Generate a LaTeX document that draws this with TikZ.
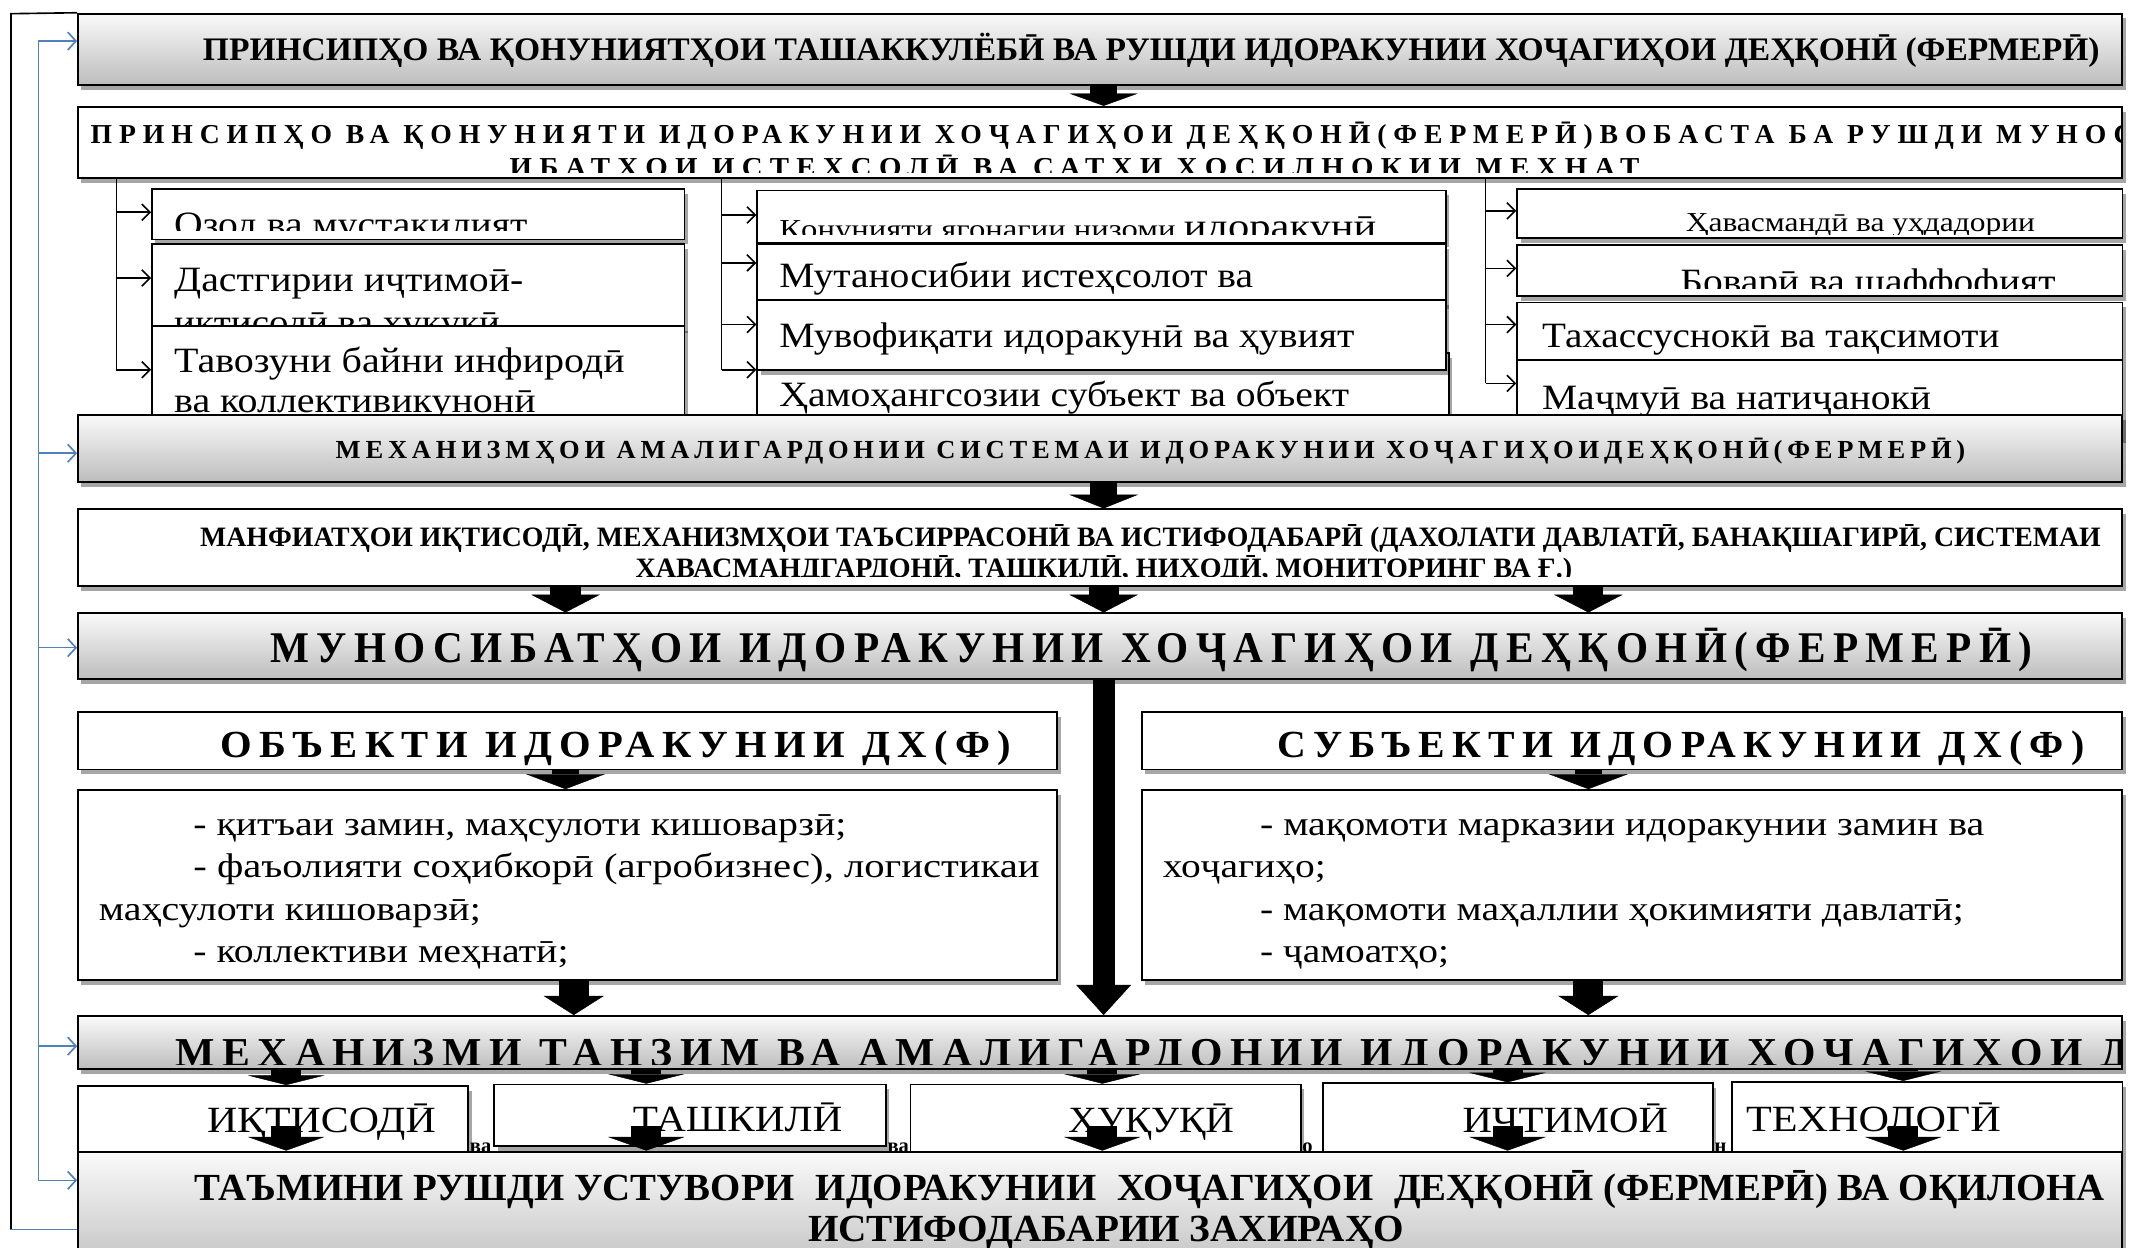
\documentclass[tikz,border=0pt]{standalone}
\usepackage{fontspec}
\setmainfont{Liberation Serif}
\usepackage{graphicx}
\usetikzlibrary{arrows.meta,fit,shadows,calc}
\newcommand{\fs}[1]{\fontsize{#1}{#1}\selectfont}
\newcommand{\fw}[2]{\resizebox{#1pt}{\height}{#2}}
\newcommand{\ls}[1]{\addfontfeature{LetterSpace=#1}}
\definecolor{frameblue}{HTML}{4F81BD}
\begin{document}
\begin{tikzpicture}[x=1pt,y=-1pt,
 shd/.style={drop shadow={shadow xshift=2.5pt,shadow yshift=-3.5pt,opacity=0.35,fill=black}},
 gbox/.style={draw=black,line width=1.4pt,top color=black!2,bottom color=black!26,inner sep=0pt,shd},
 wbox/.style={draw=black,line width=1.4pt,fill=white,inner sep=0pt,shd},
 sbox/.style={draw=black,line width=1.2pt,fill=white,inner sep=0pt,shd},
 tx/.style={inner sep=0pt,anchor=base west},
 thin/.style={draw=black,line width=1.2pt},
 tarr/.style={thin,-{Straight Barb[length=6pt,width=12pt]}},
 bline/.style={draw=frameblue,line width=1.2pt},
 barr/.style={bline,-{Straight Barb[length=6pt,width=13pt]}},
 blk/.style n args={3}{draw=black,line width=#1pt,-{Triangle[width=#2pt,length=#3pt,line width=0.3pt]}},
]
\useasboundingbox (0,0) rectangle (1568,911);
\fill[white] (0,0) rectangle (1568,911);

% ---------- A
\node[gbox,fit={(57,10)(1550,62)}] (A) {};
\node[tx] (tA) at (148,44) {\fw{1385}{\fs{24}\bfseries ПРИНСИПҲО ВА ҚОНУНИЯТҲОИ ТАШАККУЛЁБӢ ВА РУШДИ ИДОРАКУНИИ ХОҶАГИҲОИ ДЕҲҚОНӢ (ФЕРМЕРӢ)}};

% ---------- B
\node[wbox,fit={(57,78)(1550,130)}] (B) {};
\begin{scope}
\clip (57,78) rectangle (1549,126);
\node[tx] (tB1) at (66,105) {\fw{1492}{\fs{20}\bfseries\ls{25}ПРИНСИПҲО ВА ҚОНУНИЯТИ ИДОРАКУНИИ ХОҶАГИҲОИ ДЕҲҚОНӢ(ФЕРМЕРӢ)ВОБАСТА БА РУШДИ МУНОС}};
\node[tx] (tB2) at (372,129) {\fw{825}{\fs{20}\bfseries\ls{25}ИБАТҲОИ ИСТЕҲСОЛӢ ВА САТҲИ ҲОСИЛНОКИИ МЕҲНАТ}};
\end{scope}

% ---------- left column
\node[sbox,fit={(111,138)(500,175)}] (L1) {};
\begin{scope}\clip (111,138) rectangle (500,168);
\node[tx] (tL1) at (127,173) {\fw{258}{\fs{26}Озод ва мустақилият}};
\end{scope}
\node[sbox,fit={(111,178)(500,240)}] (L2) {};
\node[tx] (tL2a) at (127,213) {\fw{255}{\fs{26}Дастгирии иҷтимоӣ-}};
\node[tx] (tL2b) at (127,244) {\fw{238}{\fs{26}иқтисодӣ ва ҳуқуқӣ}};
\node[sbox,fit={(111,238)(500,320)}] (L3) {};
\node[tx] (tL3a) at (127,272) {\fw{329}{\fs{26}Тавозуни байни инфиродӣ}};
\node[tx] (tL3b) at (127,301) {\fw{264}{\fs{26}ва коллективикунонӣ}};

% ---------- middle column
\node[sbox,fit={(553,139)(1056,177)}] (M1) {};
\begin{scope}\clip (553,139) rectangle (1056,171);
\node[tx] (tM1) at (569,174) {\fw{436}{\fs{20}Қонунияти ягонагии низоми \fs{26}идоракунӣ}};
\end{scope}
\node[sbox,fit={(553,178)(1056,222)}] (M2) {};
\node[tx] (tM2) at (569,210) {\fw{346}{\fs{26}Мутаносибии истеҳсолот ва}};
\node[sbox,fit={(553,258)(1058,320)}] (M4) {};
\node[tx] (tM4) at (569,297) {\fw{416}{\fs{26}Ҳамоҳангсозии субъект ва объект}};
\node[sbox,fit={(553,219)(1056,270)}] (M3) {};
\node[tx] (tM3) at (569,254) {\fw{420}{\fs{26}Мувофиқати идоракунӣ ва ҳувият}};

% ---------- right column
\node[sbox,fit={(1108,138)(1550,174)}] (R1) {};
\begin{scope}\clip (1108,138) rectangle (1550,171);
\node[tx] (tR1) at (1231,169) {\fw{255}{\fs{20}Ҳавасмандӣ ва уҳдадории}};
\end{scope}
\node[sbox,fit={(1108,179)(1550,216)}] (R2) {};
\begin{scope}\clip (1108,179) rectangle (1550,210.5);
\node[tx] (tR2) at (1227,214) {\fw{274}{\fs{26}Боварӣ ва шаффофият}};
\end{scope}
\node[sbox,fit={(1108,221)(1550,263)}] (R3) {};
\node[tx] (tR3) at (1126,254) {\fw{334}{\fs{26}Тахассуснокӣ ва тақсимоти}};
\node[sbox,fit={(1108,263)(1550,320)}] (R4) {};
\node[tx] (tR4) at (1126,299) {\fw{284}{\fs{26}Маҷмуӣ ва натиҷанокӣ}};

% ---------- column connectors
\coordinate (lv) at (85,130); \coordinate (l1) at (85,155); \coordinate (l2) at (85,203); \coordinate (l3) at (85,270);
\draw[thin] (lv) -- (l3);
\draw[tarr] (l1) -- (l1 -| L1.west);
\draw[tarr] (l2) -- (l2 -| L2.west);
\draw[tarr] (l3) -- (l3 -| L3.west);
\coordinate (mv) at (527,130); \coordinate (m1) at (527,157); \coordinate (m2) at (527,192); \coordinate (m3) at (527,237); \coordinate (m4) at (527,270);
\draw[thin] (mv) -- (m4);
\draw[tarr] (m1) -- (m1 -| M1.west);
\draw[tarr] (m2) -- (m2 -| M2.west);
\draw[tarr] (m3) -- (m3 -| M3.west);
\draw[tarr] (m4) -- (m4 -| M4.west);
\coordinate (rv) at (1085,130); \coordinate (r1) at (1085,154); \coordinate (r2) at (1085,196); \coordinate (r3) at (1085,237); \coordinate (r4) at (1085,280);
\draw[thin] (rv) -- (r4);
\draw[tarr] (r1) -- (r1 -| R1.west);
\draw[tarr] (r2) -- (r2 -| R2.west);
\draw[tarr] (r3) -- (r3 -| R3.west);
\draw[tarr] (r4) -- (r4 -| R4.west);

% ---------- C
\node[gbox,fit={(57,303)(1550,352)}] (C) {};
\node[tx] (tC) at (245,335) {\fw{1190}{\fs{19}\bfseries\ls{18}МЕХАНИЗМҲОИ АМАЛИГАРДОНИИ СИСТЕМАИ ИДОРАКУНИИ ХОҶАГИҲОИДЕҲҚОНӢ(ФЕРМЕРӢ)}};

% ---------- D
\node[wbox,fit={(57,372)(1550,428)}] (D) {};
\node[tx] (tD1) at (146,399) {\fw{1388}{\fs{20.5}\bfseries МАНФИАТҲОИ ИҚТИСОДӢ, МЕХАНИЗМҲОИ ТАЪСИРРАСОНӢ ВА ИСТИФОДАБАРӢ (ДАХОЛАТИ ДАВЛАТӢ, БАНАҚШАГИРӢ, СИСТЕМАИ}};
\begin{scope}\clip (57,372) rectangle (1550,421);
\node[tx] (tD2) at (464,422) {\fw{684}{\fs{20.5}\bfseries ҲАВАСМАНДГАРДОНӢ, ТАШКИЛӢ, НИҲОДӢ, МОНИТОРИНГ ВА Ғ.)}};
\end{scope}

% ---------- E
\node[gbox,fit={(57,448)(1550,496)}] (E) {};
\node[tx] (tE) at (197,484) {\fw{1287}{\fs{32}\bfseries\ls{18}МУНОСИБАТҲОИ ИДОРАКУНИИ ХОҶАГИҲОИ ДЕҲҚОНӢ(ФЕРМЕРӢ)}};

% ---------- F, G
\node[wbox,fit={(57,520)(772,562)}] (F1) {};
\node[tx] (tF1) at (161,553) {\fw{577}{\fs{28}\bfseries\ls{18}ОБЪЕКТИ ИДОРАКУНИИ ДХ(Ф)}};
\node[wbox,fit={(834,520)(1550,562)}] (F2) {};
\node[tx] (tF2) at (933,553) {\fw{589}{\fs{28}\bfseries\ls{18}СУБЪЕКТИ ИДОРАКУНИИ ДХ(Ф)}};

\node[wbox,fit={(57,577)(772,716)}] (G1) {};
\node[tx] (g11) at (141,610) {\fw{477}{\fs{25}- қитъаи замин, маҳсулоти кишоварзӣ;}};
\node[tx] (g12) at (141,641) {\fw{618}{\fs{25}- фаъолияти соҳибкорӣ (агробизнес), логистикаи}};
\node[tx] (g13) at (72,672) {\fw{279}{\fs{25}маҳсулоти кишоварзӣ;}};
\node[tx] (g14) at (141,703) {\fw{274}{\fs{25}- коллективи меҳнатӣ;}};
\node[wbox,fit={(834,577)(1550,716)}] (G2) {};
\node[tx] (g21) at (920,610) {\fw{529}{\fs{25}- мақомоти марказии идоракунии замин ва}};
\node[tx] (g22) at (849,641) {\fw{119}{\fs{25}хоҷагиҳо;}};
\node[tx] (g23) at (920,672) {\fw{514}{\fs{25}- мақомоти маҳаллии ҳокимияти давлатӣ;}};
\node[tx] (g24) at (920,703) {\fw{138}{\fs{25}- ҷамоатҳо;}};

% ---------- H
\node[gbox,fit={(57,742)(1550,781)}] (H) {};
\begin{scope}\clip (57,742) rectangle (1549,777.5);
\node[tx] (tH) at (128,779) {\fw{1427}{\fs{30}\bfseries\ls{18}МЕХАНИЗМИ ТАНЗИМ ВА АМАЛИГАРДОНИИ ИДОРАКУНИИ ХОҶАГИҲОИ Д}};
\end{scope}

% ---------- fragments behind I row
\node[tx] (v1) at (343,842) {\fs{15}\bfseries ва};
\node[tx] (v2) at (648,842) {\fs{15}\bfseries ва};
\node[tx] (v3) at (951,842) {\fs{15}\bfseries о};
\node[tx] (v4) at (1252,842) {\fs{15}\bfseries н};

% ---------- I row
\node[sbox,fit={(57,793)(342,841)}] (I1) {};
\node[tx] (tI1) at (151,827) {\fw{167}{\fs{27}ИҚТИСОДӢ}};
\node[sbox,fit={(361,792)(647,837)}] (I2) {};
\node[tx] (tI2) at (462,826) {\fw{153}{\fs{27}ТАШКИЛӢ}};
\node[sbox,fit={(665,792)(950,841)}] (I3) {};
\node[tx] (tI3) at (780,827) {\fw{121}{\fs{27}ҲУҚУҚӢ}};
\node[sbox,fit={(966,791)(1251,841)}] (I4) {};
\node[tx] (tI4) at (1068,827) {\fw{150}{\fs{27}ИҶТИМОӢ}};
\node[sbox,fit={(1265,790)(1550,841)}] (I5) {};
\node[tx] (tI5) at (1275,826) {\fw{186}{\fs{27}ТЕХНОЛОГӢ}};

% ---------- J
\node[gbox,fit={(57,841)(1550,935)}] (J) {};
\node[tx] (tJ1) at (142,877) {\fw{1395}{\fs{28}\bfseries ТАЪМИНИ РУШДИ УСТУВОРИ\hspace{8pt} ИДОРАКУНИИ\hspace{8pt} ХОҶАГИҲОИ\hspace{8pt} ДЕҲҚОНӢ (ФЕРМЕРӢ) ВА ОҚИЛОНА}};
\node[tx] (tJ2) at (590,907) {\fw{435}{\fs{28}\bfseries ИСТИФОДАБАРИИ ЗАХИРАҲО}};

% ---------- block arrows
\coordinate (xL) at (413,0); \coordinate (xM) at (806,0); \coordinate (xR) at (1160,0); \coordinate (xL2) at (419,0);
\coordinate (q1) at (209,0); \coordinate (q2) at (472,0); \coordinate (q3) at (805,0); \coordinate (q4) at (1101,0); \coordinate (q5) at (1390,0);
\draw[blk={20}{50}{9}] (A.south -| xM) -- (B.north -| xM);
\draw[blk={20}{50}{10}] (C.south -| xM) -- (D.north -| xM);
\draw[blk={22}{50}{13}] (D.south -| xL) -- (E.north -| xL);
\draw[blk={22}{50}{13}] (D.south -| xM) -- (E.north -| xM);
\draw[blk={22}{50}{13}] (D.south -| xR) -- (E.north -| xR);
\draw[blk={16}{40}{22}] (E.south -| xM) -- (H.north -| xM);
\draw[blk={20}{58}{11}] (F1.south -| xL) -- (G1.north -| xL);
\draw[blk={20}{58}{11}] (F2.south -| xR) -- (G2.north -| xR);
\draw[blk={22}{44}{14}] (G1.south -| xL2) -- (H.north -| xL2);
\draw[blk={22}{44}{14}] (G2.south -| xR) -- (H.north -| xR);
\draw[blk={22}{56}{7}] (H.south -| q1) -- (I1.north -| q1);
\draw[blk={22}{56}{7}] (H.south -| q2) -- (I2.north -| q2);
\draw[blk={22}{56}{7}] (H.south -| q3) -- (I3.north -| q3);
\draw[blk={22}{56}{7}] (H.south -| q4) -- (I4.north -| q4);
\draw[blk={22}{56}{7}] (H.south -| q5) -- (I5.north -| q5);
\draw[blk={22}{56}{10}] ($(I1.south -| q1)+(0,-19)$) -- (J.north -| q1);
\draw[blk={22}{56}{10}] ($(I2.south -| q2)+(0,-15)$) -- (J.north -| q2);
\draw[blk={22}{56}{10}] ($(I3.south -| q3)+(0,-19)$) -- (J.north -| q3);
\draw[blk={22}{56}{10}] ($(I4.south -| q4)+(0,-19)$) -- (J.north -| q4);
\draw[blk={22}{56}{10}] ($(I5.south -| q5)+(0,-19)$) -- (J.north -| q5);

% ---------- frame
\coordinate (f1) at (8,10); \coordinate (f2) at (8,898);
\draw[thin] (A.north west) -- (f1) -- (f2);
\draw[bline] (f2) -- (f2 -| J.west);
\coordinate (bA) at (28,30); \coordinate (bC) at (28,331); \coordinate (bE) at (28,473); \coordinate (bH) at (28,764); \coordinate (bJ) at (28,862);
\draw[bline] (bA) -- (bJ);
\draw[barr] (bA) -- (bA -| A.west);
\draw[barr] (bC) -- (bC -| C.west);
\draw[barr] (bE) -- (bE -| E.west);
\draw[barr] (bH) -- (bH -| H.west);
\draw[barr] (bJ) -- (bJ -| J.west);
\end{tikzpicture}
\end{document}
